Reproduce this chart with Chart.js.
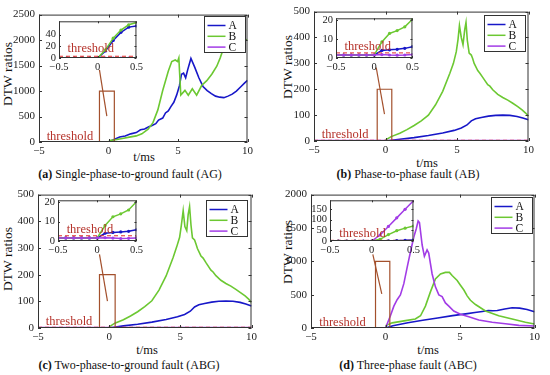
<!DOCTYPE html>
<html>
<head>
<meta charset="utf-8">
<script src="https://cdn.jsdelivr.net/npm/chart.js@4.4.0/dist/chart.umd.min.js"></script>
<style>
  body { margin: 0; background: #fff; }
  #wrap { position: relative; width: 550px; height: 375px; overflow: hidden;
          font-family: "Liberation Serif", "Times New Roman", serif; color: #111; }
  canvas { position: absolute; }
  .lbl { position: absolute; white-space: nowrap; font-size: 12.5px; transform: translate(-50%, -50%); }
  .ylbl { font-size: 13.5px; transform: translate(-50%, -50%) rotate(-90deg); }
  .cap { position: absolute; white-space: nowrap; font-size: 12px; transform: translate(-50%, -50%); }
</style>
</head>
<body>
<div id="wrap">
  <div class="lbl ylbl" style="left:8px;top:74px">DTW ratios</div>
  <div class="lbl" style="left:144px;top:157px">t/ms</div>
  <div class="cap" style="left:130px;top:174px"><b>(a)</b> Single-phase-to-ground fault (AG)</div>

  <div class="lbl ylbl" style="left:288px;top:67px">DTW ratios</div>
  <div class="lbl" style="left:427px;top:163px">t/ms</div>
  <div class="cap" style="left:408px;top:174px"><b>(b)</b> Phase-to-phase fault (AB)</div>

  <div class="lbl ylbl" style="left:8px;top:259px">DTW ratios</div>
  <div class="lbl" style="left:147px;top:350px">t/ms</div>
  <div class="cap" style="left:129px;top:365px"><b>(c)</b> Two-phase-to-ground fault (ABG)</div>

  <div class="lbl ylbl" style="left:288px;top:252px">DTW ratios</div>
  <div class="lbl" style="left:428px;top:350px">t/ms</div>
  <div class="cap" style="left:408px;top:365px"><b>(d)</b> Three-phase fault (ABC)</div>
</div>
<script>
// ---- data ----
const seriesNames = ['A', 'B', 'C'];
const xTicksMain = [-5, 0, 5, 10];
const xTicksInset = [-0.5, 0, 0.5];
const thrT = [-5, 10];
const thrInsetT = [-0.5, 0.5];
const insetT = [-0.5, -0.4, -0.3, -0.2, -0.1, 0, 0.1, 0.2, 0.3, 0.4, 0.5];

// (a) AG
const agYTicks = [0, 500, 1000, 1500, 2000, 2500];
const agAt = [-5, 0, 0.4, 0.8, 1.2, 1.6, 2.0, 2.3, 2.6, 2.9, 3.1, 3.4, 3.6, 3.9, 4.1, 4.3, 4.5, 4.7, 4.9, 5.1, 5.25, 5.4, 5.55, 5.7, 5.93, 6.2, 6.5, 6.8, 7.1, 7.4, 7.7, 8.0, 8.3, 8.6, 8.9, 9.2, 9.5, 9.8, 10];
const agAv = [0, 0, 50, 100, 118, 160, 185, 240, 255, 300, 320, 360, 430, 470, 570, 610, 700, 780, 920, 1100, 1330, 1350, 1260, 1420, 1640, 1470, 1260, 1090, 1010, 950, 900, 880, 870, 900, 940, 1000, 1080, 1160, 1210];
const agBt = [-5, 0, 0.1, 0.5, 1.0, 1.5, 2.0, 2.4, 2.85, 3.2, 3.55, 3.9, 4.3, 4.55, 4.8, 4.97, 5.06, 5.2, 5.5, 5.74, 6.03, 6.34, 6.7, 7.07, 7.43, 7.79, 8.03, 8.27, 8.6, 9.0, 9.4, 9.7, 10];
const agBv = [0, 0, 30, 45, 70, 95, 120, 160, 253, 380, 630, 1010, 1390, 1580, 1610, 1580, 1650, 920, 1013, 918, 1044, 918, 1108, 1203, 1329, 1487, 1646, 1836, 2150, 2300, 2200, 2050, 1990];
const agCt = [-5, 10];
const agCv = [0, 0];
const agThr = 3;
const agRectT = [-0.65, 0.42, 0.42, -0.65, -0.65];
const agRectV = [0, 0, 1000, 1000, 0];
const agLinkT = [-0.65, -0.12];
const agLinkV = [1417, 507];
const agInTicks = [0, 20, 40];
const agInA = [0, 0, 0, 0, 0, 0, 12, 30, 44, 53, 55];
const agInB = [0, 0, 0, 0, 0, 0, 14, 34, 48, 57, 61];
const agInC = [0, 0, 0, 0, 0, 0, 0, 0, 0, 0, 0];

// (b) AB
const abYTicks = [0, 100, 200, 300, 400, 500];
const abAt = [-5, 0, 1, 2, 3, 4, 4.8, 5.3, 5.7, 6.0, 6.3, 6.7, 7.2, 7.7, 8.2, 8.7, 9.2, 9.6, 10];
const abAv = [0, 0, 7, 13, 21, 31, 41, 50, 62, 78, 86, 91, 96, 99, 100, 99, 95, 89, 82];
const abBt = [-5, 0, 0.05, 0.4, 1.0, 1.5, 2.0, 2.5, 3.0, 3.5, 4.0, 4.5, 4.75, 4.95, 5.07, 5.17, 5.3, 5.42, 5.54, 5.63, 5.72, 5.85, 6.0, 6.1, 6.2, 6.45, 6.6, 6.8, 7.15, 7.3, 7.5, 7.85, 8.2, 8.55, 8.9, 9.25, 9.55, 9.8, 10];
const abBv = [0, 0, 6, 17, 30, 44, 60, 78, 100, 140, 192, 262, 300, 345, 392, 446, 400, 372, 430, 458, 390, 340, 332, 318, 300, 272, 262, 246, 218, 212, 198, 180, 168, 158, 146, 133, 120, 108, 96];
const abCt = [-5, 10];
const abCv = [1.6, 1.6];
const abThr = 2.7;
const abRectT = [-0.58, 0.44, 0.44, -0.58, -0.58];
const abRectV = [0, 0, 200, 200, 0];
const abLinkT = [-0.65, -0.07];
const abLinkV = [284, 104];
const abInTicks = [0, 10, 20];
const abInA = [1.6, 1.6, 1.6, 1.6, 1.6, 1.6, 4, 4.3, 4.6, 5.1, 6];
const abInB = [1.6, 1.6, 1.6, 1.6, 1.6, 1.6, 8.5, 13, 14.5, 16.5, 20.5];
const abInC = [1.6, 1.6, 1.6, 1.6, 1.6, 1.6, 1.8, 1.6, 1.5, 1.6, 1.8];

// (c) ABG
const abgYTicks = [0, 100, 200, 300, 400, 500];
const abgAt = [-5, 0, 1, 2, 3, 4, 4.8, 5.3, 5.7, 6.0, 6.3, 6.7, 7.2, 7.7, 8.2, 8.7, 9.2, 9.6, 10];
const abgAv = [0, 0, 8, 14, 22, 32, 42, 51, 63, 79, 87, 92, 97, 100, 101, 100, 96, 90, 82];
const abgBt = [-5, 0, 0.05, 0.4, 1.0, 1.5, 2.0, 2.5, 3.0, 3.5, 4.0, 4.5, 4.75, 4.95, 5.07, 5.2, 5.32, 5.45, 5.55, 5.65, 5.75, 5.85, 6.0, 6.1, 6.2, 6.45, 6.6, 6.8, 7.15, 7.3, 7.5, 7.85, 8.2, 8.55, 8.9, 9.25, 9.55, 9.8, 10];
const abgBv = [0, 0, 6, 18, 31, 45, 61, 80, 102, 142, 195, 265, 305, 340, 385, 440, 380, 365, 425, 455, 385, 338, 330, 315, 298, 270, 262, 245, 217, 210, 196, 179, 167, 157, 145, 132, 120, 108, 96];
const abgCt = [-5, 10];
const abgCv = [1.6, 1.6];
const abgThr = 2.7;
const abgRectT = [-0.68, 0.42, 0.42, -0.68, -0.68];
const abgRectV = [0, 0, 200, 200, 0];
const abgLinkT = [-0.68, -0.12];
const abgLinkV = [276, 101];
const abgInTicks = [0, 10, 20];
const abgInA = [1.6, 1.6, 1.6, 1.6, 1.6, 1.6, 4, 4.4, 4.7, 5, 5.8];
const abgInB = [1.6, 1.6, 1.6, 1.6, 1.6, 1.6, 8, 12.5, 14, 16, 20.3];
const abgInC = [1.6, 1.6, 1.6, 1.6, 1.6, 1.6, 1.7, 1.5, 1.3, 1.4, 1.6];

// (d) ABC
const abcYTicks = [0, 500, 1000, 1500, 2000];
const abcAt = [-5, 0, 0.5, 1.5, 2.5, 3.5, 4.5, 5.5, 6.0, 6.5, 6.9, 7.2, 7.5, 8.0, 8.5, 9.0, 9.5, 10];
const abcAv = [0, 0, 35, 80, 115, 150, 185, 215, 232, 248, 262, 258, 262, 285, 303, 298, 278, 245];
const abcBt = [-5, 0, 0.05, 0.45, 1.34, 2.0, 2.35, 2.68, 3.02, 3.35, 3.69, 4.02, 4.29, 4.47, 4.81, 5.03, 5.26, 5.48, 5.7, 6.04, 6.71, 7.6, 8.5, 9.39, 10];
const abcBv = [0, 0, 40, 77, 111, 135, 183, 328, 545, 737, 810, 834, 834, 786, 713, 641, 569, 482, 415, 352, 255, 183, 135, 87, 60];
const abcCt = [-5, 0, 0.33, 0.56, 0.78, 1.0, 1.23, 1.45, 1.68, 1.9, 2.06, 2.19, 2.28, 2.46, 2.61, 2.79, 2.9, 3.13, 3.35, 3.58, 3.8, 4.02, 4.25, 4.58, 5.03, 5.59, 6.26, 7.16, 8.05, 8.95, 10];
const abcCv = [0, 0, 183, 328, 424, 496, 665, 906, 1147, 1364, 1485, 1605, 1581, 1244, 1075, 1171, 1123, 810, 617, 496, 472, 376, 328, 255, 207, 169, 120, 87, 63, 39, 29];
const abcThr = 3;
const abcRectT = [-0.67, 0.29, 0.29, -0.67, -0.67];
const abcRectV = [0, 0, 1000, 1000, 0];
const abcLinkT = [-0.85, -0.25];
const abcLinkV = [1103, 510];
const abcInTicks = [0, 50, 100, 150];
const abcInA = [0, 0, 0, 0, 0, 0, 0, 0.5, 2, 3, 5];
const abcInB = [0, 0, 0, 0, 0, 0, 8, 30, 48, 60, 70];
const abcInC = [0, 0, 0, 0, 0, 0, 28, 68, 108, 148, 188];

// ---- styling ----
const COL_A = '#1717c8';
const COL_B = '#6cc832';
const COL_C = '#a23ce6';
const COL_THR = '#e32b2b';
const COL_BOX = '#a3502c';
const COL_TXT = '#b5322a';
const FONT = '"Liberation Serif", "Times New Roman", serif';

Chart.defaults.font.family = FONT;
Chart.defaults.color = '#222';

const pts = (xs, ys) => xs.map((x, i) => ({ x: x, y: ys[i] }));
const minus = v => String(v).replace('-', '\u2212');

// frame with inward ticks, threshold label, legend
const deco = {
    id: 'deco',
    beforeDatasetsDraw(chart, args, o) {
        if (!o.fill) return;
        const a = chart.chartArea, ctx = chart.ctx;
        ctx.save();
        ctx.fillStyle = '#fff';
        ctx.fillRect(a.left, a.top, a.right - a.left, a.bottom - a.top);
        ctx.restore();
    },
    afterDatasetsDraw(chart, args, o) {
        const a = chart.chartArea, ctx = chart.ctx;
        const xs = chart.scales.x, ys = chart.scales.y;
        ctx.save();

        // threshold label
        ctx.font = '12.5px ' + FONT;
        ctx.fillStyle = COL_TXT;
        ctx.textAlign = 'left';
        ctx.textBaseline = 'alphabetic';
        ctx.fillText('threshold', xs.getPixelForValue(o.textX), ys.getPixelForValue(o.thr) - o.textDy);

        // box + ticks
        ctx.strokeStyle = '#333';
        ctx.lineWidth = 1;
        ctx.strokeRect(a.left + 0.5, a.top + 0.5, a.right - a.left - 1, a.bottom - a.top - 1);
        ctx.beginPath();
        xs.ticks.forEach(t => {
            const p = Math.round(xs.getPixelForValue(t.value)) + 0.5;
            ctx.moveTo(p, a.bottom); ctx.lineTo(p, a.bottom - o.tick);
            ctx.moveTo(p, a.top); ctx.lineTo(p, a.top + o.tick);
        });
        ys.ticks.forEach(t => {
            const p = Math.round(ys.getPixelForValue(t.value)) + 0.5;
            ctx.moveTo(a.left, p); ctx.lineTo(a.left + o.tick, p);
            ctx.moveTo(a.right, p); ctx.lineTo(a.right - o.tick, p);
        });
        ctx.stroke();

        // legend box
        if (o.legend) {
            const L = o.legend;
            const lx = Math.round(a.right - L.dx - L.w) + 0.5;
            const ly = Math.round(a.top + L.dy) + 0.5;
            ctx.fillStyle = '#fff';
            ctx.fillRect(lx, ly, L.w, L.h);
            ctx.strokeStyle = '#333';
            ctx.strokeRect(lx, ly, L.w, L.h);
            ctx.font = '11.5px ' + FONT;
            ctx.textBaseline = 'middle';
            seriesNames.forEach((name, i) => {
                const ry = ly + 9 + i * 10.8;
                ctx.strokeStyle = [COL_A, COL_B, COL_C][i];
                ctx.lineWidth = 1.5;
                ctx.beginPath();
                ctx.moveTo(lx + 3, ry); ctx.lineTo(lx + 21, ry);
                ctx.stroke();
                ctx.fillStyle = '#111';
                ctx.fillText(name, lx + 24, ry + 0.5);
            });
        }
        ctx.restore();
    }
};

function place(x, y, w, h) {
    const c = document.createElement('canvas');
    c.width = w; c.height = h;
    c.style.left = x + 'px'; c.style.top = y + 'px';
    c.style.width = w + 'px'; c.style.height = h + 'px';
    document.getElementById('wrap').appendChild(c);
    return c;
}

function line(xs, ys, color, extra) {
    return Object.assign({
        data: pts(xs, ys), borderColor: color, backgroundColor: color,
        borderWidth: 1.6, pointRadius: 0, tension: 0, fill: false
    }, extra || {});
}

// one axes box; box = [left, top, right, bottom] of the plot area
function axes(box, p) {
    const yw = p.yw, xh = p.xh, pt = 6, pr = 8;
    const l = Math.round(box[0]), t = Math.round(box[1]);
    const r = Math.round(box[2]), b = Math.round(box[3]);
    const cv = place(l - yw, t - pt, r - l + yw + pr, b - t + pt + xh);
    const tickFont = { size: p.fs, family: 'Liberation Serif' };
    const noGrid = { display: false, drawTicks: false };
    return new Chart(cv, {
        type: 'line',
        data: { datasets: p.datasets },
        options: {
            responsive: false, animation: false, events: [],
            layout: { padding: { left: 0, top: pt, right: pr, bottom: 0 } },
            scales: {
                x: {
                    type: 'linear', min: p.xMin, max: p.xMax,
                    grid: noGrid, border: { display: false },
                    afterBuildTicks: s => { s.ticks = p.xTicks.map(v => ({ value: v })); },
                    afterFit: s => { s.height = xh; },
                    ticks: { padding: p.xpad, maxRotation: 0, autoSkip: false, callback: minus, font: tickFont, color: '#222' }
                },
                y: {
                    type: 'linear', min: 0, max: p.yMax,
                    grid: noGrid, border: { display: false },
                    afterBuildTicks: s => { s.ticks = p.yTicks.map(v => ({ value: v })); },
                    afterFit: s => { s.width = yw; },
                    ticks: { padding: p.ypad, autoSkip: false, callback: v => String(v), font: tickFont, color: '#222' }
                }
            },
            plugins: {
                legend: { display: false }, tooltip: { enabled: false },
                deco: { fill: p.fill, tick: p.tick, thr: p.thr, textX: p.textX, textDy: p.textDy, legend: p.legend }
            }
        },
        plugins: [deco]
    });
}

function panel(c) {
    const dash = { borderColor: COL_THR, borderWidth: 1, borderDash: [4, 3] };
    axes(c.box, {
        yw: 34, xh: 18, fs: 11, xpad: 3, ypad: 4, tick: 3, fill: false,
        xMin: -5, xMax: 10, xTicks: xTicksMain, yMax: c.yMax, yTicks: c.yTicks,
        thr: c.thr, textX: -4.45, textDy: 2,
        legend: { w: 41, h: 36, dx: c.legDx, dy: c.legDy },
        datasets: [
            line(thrT, [c.thr, c.thr], COL_THR, dash),
            line(c.rectT, c.rectV, COL_BOX, { borderWidth: 1.2 }),
            line(c.linkT, c.linkV, COL_BOX, { borderWidth: 1.2 }),
            line(c.Ct, c.Cv, COL_C),
            line(c.Bt, c.Bv, COL_B),
            line(c.At, c.Av, COL_A)
        ]
    });
    const mk = { borderWidth: 1.5, pointRadius: 1.6, pointBorderWidth: 0 };
    axes(c.inBox, {
        yw: 22, xh: 16, fs: 10.5, xpad: 3, ypad: 3, tick: 2, fill: true,
        xMin: -0.5, xMax: 0.5, xTicks: xTicksInset, yMax: c.inMax, yTicks: c.inTicks,
        thr: c.thr, textX: -0.39, textDy: c.inDy,
        datasets: [
            line(thrInsetT, [c.thr, c.thr], COL_THR, dash),
            line(insetT, c.inC, COL_C, mk),
            line(insetT, c.inB, COL_B, mk),
            line(insetT, c.inA, COL_A, mk)
        ]
    });
}

panel({
    box: [38.5, 10, 248, 141.5], yMax: 2500, yTicks: agYTicks, thr: agThr,
    At: agAt, Av: agAv, Bt: agBt, Bv: agBv, Ct: agCt, Cv: agCv,
    rectT: agRectT, rectV: agRectV, linkT: agLinkT, linkV: agLinkV,
    legDx: 3, legDy: 1,
    inBox: [59, 18, 137.5, 58], inMax: 63, inTicks: agInTicks, inDy: 4,
    inA: agInA, inB: agInB, inC: agInC
});
panel({
    box: [314.3, 7.3, 529, 140.7], yMax: 500, yTicks: abYTicks, thr: abThr,
    At: abAt, Av: abAv, Bt: abBt, Bv: abBv, Ct: abCt, Cv: abCv,
    rectT: abRectT, rectV: abRectV, linkT: abLinkT, linkV: abLinkV,
    legDx: 4, legDy: 3,
    inBox: [336, 15, 414, 58], inMax: 21, inTicks: abInTicks, inDy: 3,
    inA: abInA, inB: abInB, inC: abInC
});
panel({
    box: [37.5, 190, 251.7, 327.7], yMax: 500, yTicks: abgYTicks, thr: abgThr,
    At: abgAt, Av: abgAv, Bt: abgBt, Bv: abgBv, Ct: abgCt, Cv: abgCv,
    rectT: abgRectT, rectV: abgRectV, linkT: abgLinkT, linkV: abgLinkV,
    legDx: 5, legDy: 5,
    inBox: [57.5, 196.5, 138, 241], inMax: 21, inTicks: abgInTicks, inDy: 3,
    inA: abgInA, inB: abgInB, inC: abgInC
});
panel({
    box: [311, 190, 535, 328], yMax: 2000, yTicks: abcYTicks, thr: abcThr,
    At: abcAt, Av: abcAv, Bt: abcBt, Bv: abcBv, Ct: abcCt, Cv: abcCv,
    rectT: abcRectT, rectV: abcRectV, linkT: abcLinkT, linkV: abcLinkV,
    legDx: 3, legDy: 2,
    inBox: [330, 197, 415, 241], inMax: 190, inTicks: abcInTicks, inDy: 3,
    inA: abcInA, inB: abcInB, inC: abcInC
});
</script>
</body>
</html>
